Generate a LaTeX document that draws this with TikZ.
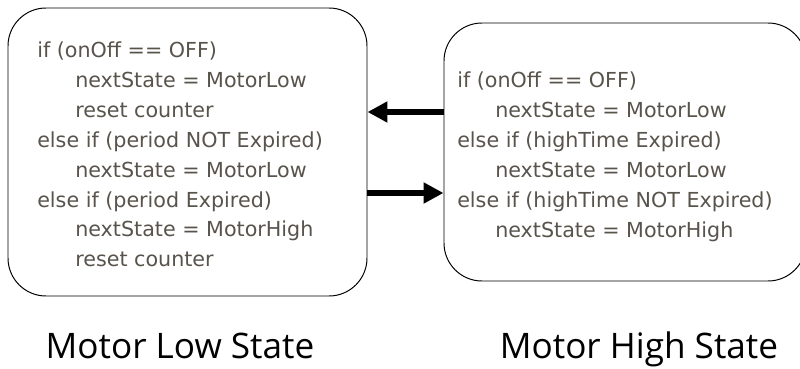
\documentclass[tikz,border=0pt]{standalone}
\usepackage{fontspec}
\setmainfont{DejaVu Sans}
\newfontfamily\labelfont{Open Sans}
\usetikzlibrary{arrows.meta,positioning}
\definecolor{codegray}{RGB}{88,83,75}
\tikzset{statebox/.style = {draw, rounded corners = 0.95cm, line width = 0.7pt, inner sep = 0pt},
	code/.style = {anchor = north west, inner sep = 0pt, align = left, text = codegray, font = \fontsize{14.7pt}{21.2pt}\selectfont},
	statename/.style = {anchor = base, inner sep = 0pt, font = \labelfont\fontsize{25pt}{25pt}\selectfont},
	trans/.style = {-{Triangle[length = 0.5cm, width = 0.5cm]}, line width = 3.6pt}}
\newcommand{\ind}{\hspace*{0.95cm}}

\begin{document}
\begin{tikzpicture}
 \useasboundingbox (0,0) rectangle (20,9.2);

 \node (low) at (4.6875,5.4) [statebox, minimum width = 8.975cm, minimum height = 7.2cm] {};
 \node (high) at (15.625,5.4) [statebox, minimum width = 9.05cm, minimum height = 6.45cm] {};

 \node (lowcode) at (0.925,8.15) [code] {if (onOff == OFF)\\
  \ind nextState = MotorLow\\
  \ind reset counter\\
  else if (period NOT Expired)\\
  \ind nextState = MotorLow\\
  else if (period Expired)\\
  \ind nextState = MotorHigh\\
  \ind reset counter};
 \node (highcode) at (11.425,7.4) [code] {if (onOff == OFF)\\
  \ind nextState = MotorLow\\
  else if (highTime Expired)\\
  \ind nextState = MotorLow\\
  else if (highTime NOT Expired)\\
  \ind nextState = MotorHigh};

 \draw [trans] ([yshift = 1cm]high.west) -- ([yshift = 1cm]low.east);
 \draw [trans] ([yshift = -1.025cm]low.east) -- ([yshift = -1.025cm]high.west);

 \node (lowname) at (4.5,0.24) [statename] {Motor Low State};
 \node (highname) at (15.975,0.24) [statename] {Motor High State};

\end{tikzpicture}
\end{document}
